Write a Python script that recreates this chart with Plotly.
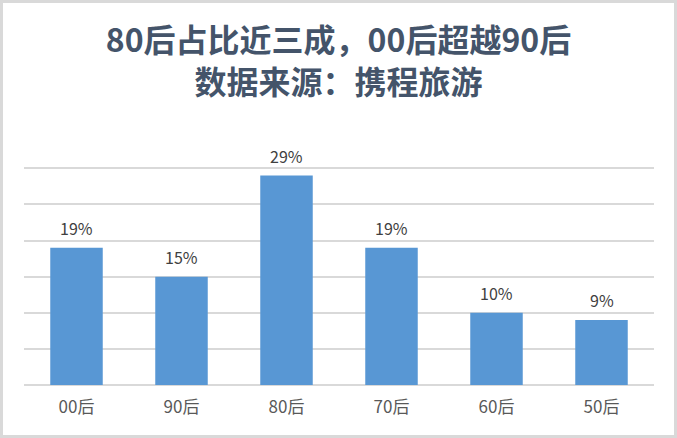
import plotly.graph_objects as go

# 各年龄段占比（%）
categories = ['00后', '90后', '80后', '70后', '60后', '50后']
share = [19, 15, 29, 19, 10, 9]
labels = ['19%', '15%', '29%', '19%', '10%', '9%']

title_text = '80后占比近三成，00后超越90后<br>数据来源：携程旅游'

font_cjk = 'Noto Sans CJK SC'

fig = go.Figure(go.Bar(
    x=categories,
    y=share,
    marker=dict(color='#5897d4', line=dict(width=0)),
    width=0.5,
))

# 数据标签
for c, v, t in zip(categories, share, labels):
    fig.add_annotation(x=c, y=v, text=t, showarrow=False, yanchor='bottom', yshift=6,
                       font=dict(size=16, color='#404040', family=font_cjk))

fig.update_layout(
    width=677, height=438,
    margin=dict(l=24, r=23, t=132, b=53),
    paper_bgcolor='white',
    plot_bgcolor='white',
    showlegend=False,
    title=dict(text=title_text, x=0.5, xanchor='center', yref='container',
               y=1 - 52 / 438, yanchor='top',
               font=dict(size=32, color='#44546a', family=font_cjk, weight='bold')),
    xaxis=dict(showgrid=False, showline=False, ticks='', ticklabelstandoff=10,
               tickfont=dict(size=17, color='#595959', family=font_cjk)),
    yaxis=dict(range=[0, 35.03], dtick=5, showticklabels=False,
               gridcolor='#d9d9d9', gridwidth=1.5, zeroline=True,
               zerolinecolor='#d9d9d9', zerolinewidth=1.5),
    shapes=[dict(type='rect', xref='paper', yref='paper',
                 x0=-22.5/630, x1=1+21.5/630, y0=-51.5/253, y1=1+130.5/253,
                 line=dict(color='#d9d9d9', width=3))],
)

fig.write_html('out.html', config={'displayModeBar': False},
               post_script="document.body.style.margin='0px';")
